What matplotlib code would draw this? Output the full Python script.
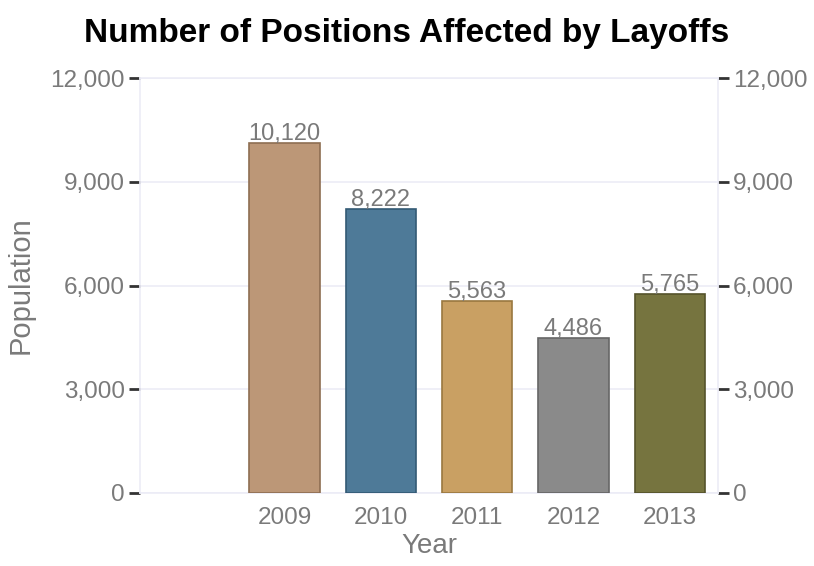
import matplotlib.pyplot as plt
from matplotlib.ticker import FuncFormatter

# ─── Data ────────────────────────────────────────────────────────────────────

years = [2009, 2010, 2011, 2012, 2013]
positions = [10120, 8222, 5563, 4486, 5765]
y_ticks = [0, 3000, 6000, 9000, 12000]

bar_colors = ["#BC9777", "#4E7A98", "#C9A063", "#8A8A8A", "#76743F"]
edge_colors = ["#8E6E52", "#335A74", "#9A7840", "#666666", "#55532B"]

GRAY = "#7A7A7A"
GRID = "#ECECF6"

plt.rcParams["font.family"] = ["Liberation Sans", "DejaVu Sans"]

fig = plt.figure(figsize=(8.14, 5.66), dpi=100)
ax = fig.add_axes([0.172, 0.129, 0.710, 0.733])

bars = ax.bar(years, positions, width=0.73, color=bar_colors,
              edgecolor=edge_colors, linewidth=1.2, zorder=3)

for x, v in zip(years, positions):
    ax.annotate(f"{v:,}", (x, v), xytext=(0, -1.5), textcoords="offset points",
                ha="center", va="bottom", fontsize=17, color=GRAY)

ax.set_xlim(2007.5, 2013.5)
ax.set_ylim(0, 12000)
ax.set_yticks(y_ticks)
ax.set_xticks(years)
fmt = FuncFormatter(lambda v, p: f"{int(v):,}")
ax.yaxis.set_major_formatter(fmt)

ax.grid(axis="y", color=GRID, linewidth=1.2, zorder=0)
for s in ax.spines.values():
    s.set_color(GRID)
    s.set_linewidth(1.2)

ax.tick_params(axis="y", which="both", left=True, right=True, labelleft=True,
               labelright=True, length=8, width=2, color="#333333",
               labelsize=17.5, labelcolor=GRAY, pad=3)
ax.tick_params(axis="x", length=0, labelsize=17.5, labelcolor=GRAY, pad=10)

ax.set_xlabel("Year", fontsize=20, color=GRAY, labelpad=3)
ax.set_ylabel("Population", fontsize=21, color=GRAY, labelpad=11)

fig.suptitle("Number of Positions Affected by Layoffs", fontsize=24,
             fontweight="bold", color="black", y=0.968)

fig.savefig("out.png", dpi=100)
